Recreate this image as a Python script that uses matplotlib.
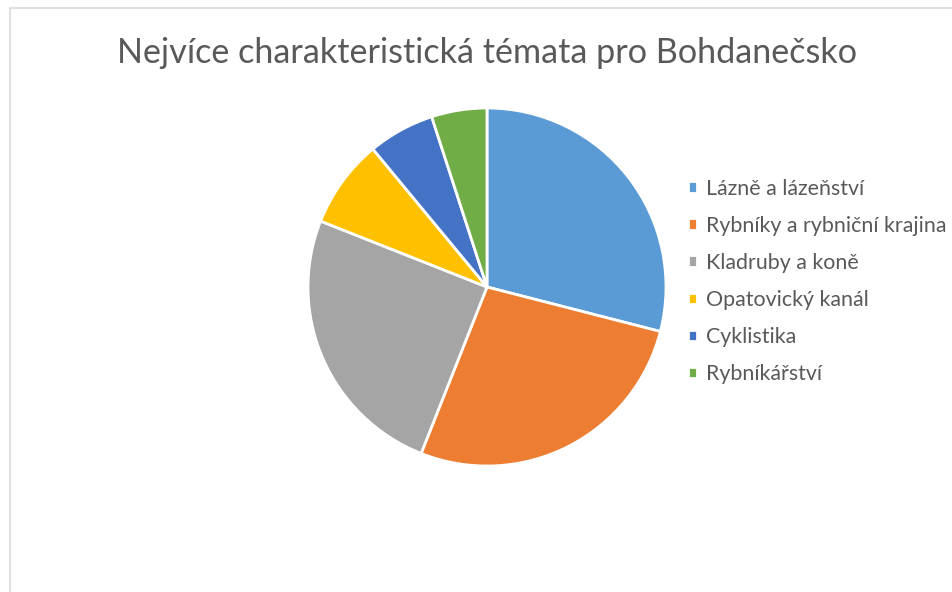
import matplotlib
matplotlib.use("Agg")
import matplotlib.pyplot as plt
from matplotlib.patches import Rectangle

plt.rcParams['font.family'] = ['Lato', 'DejaVu Sans']

labels = ["Lázně a lázeňství", "Rybníky a rybniční krajina", "Kladruby a koně",
          "Opatovický kanál", "Cyklistika", "Rybníkářství"]
values = [29, 27, 25, 8, 6, 5]
colors = ["#5B9BD5", "#ED7D31", "#A5A5A5", "#FFC000", "#4472C4", "#70AD47"]

W, H = 952, 592
fig = plt.figure(figsize=(W / 100, H / 100), dpi=100)

# chart frame (cut off at right and bottom)
fig.patches.append(Rectangle((10 / W, -0.1), 1.2, 1 - 8 / H + 0.1, transform=fig.transFigure,
                             fill=False, edgecolor="#D9D9D9", linewidth=1.2))

cx, cy, r = 487, 287, 179
ax = fig.add_axes([(cx - r) / W, 1 - (cy + r) / H, 2 * r / W, 2 * r / H])
wedges, _ = ax.pie(values, colors=colors, startangle=90, counterclock=False,
                   wedgeprops=dict(edgecolor="white", linewidth=2))
ax.set_aspect("equal")
ax.set_xlim(-1, 1)
ax.set_ylim(-1, 1)

fig.text(487 / W, 1 - 53 / H, "Nejvíce charakteristická témata pro Bohdanečsko",
         ha="center", va="center", fontsize=24.6, color="#595959")

fig.legend(wedges, labels, loc="upper left", bbox_to_anchor=(679 / W, 1 - 170 / H),
           frameon=False, fontsize=15.4, labelcolor="#595959", handlelength=0.45,
           handleheight=0.45, handletextpad=0.4, labelspacing=0.8, borderaxespad=0)

fig.savefig("out.png", dpi=100)
